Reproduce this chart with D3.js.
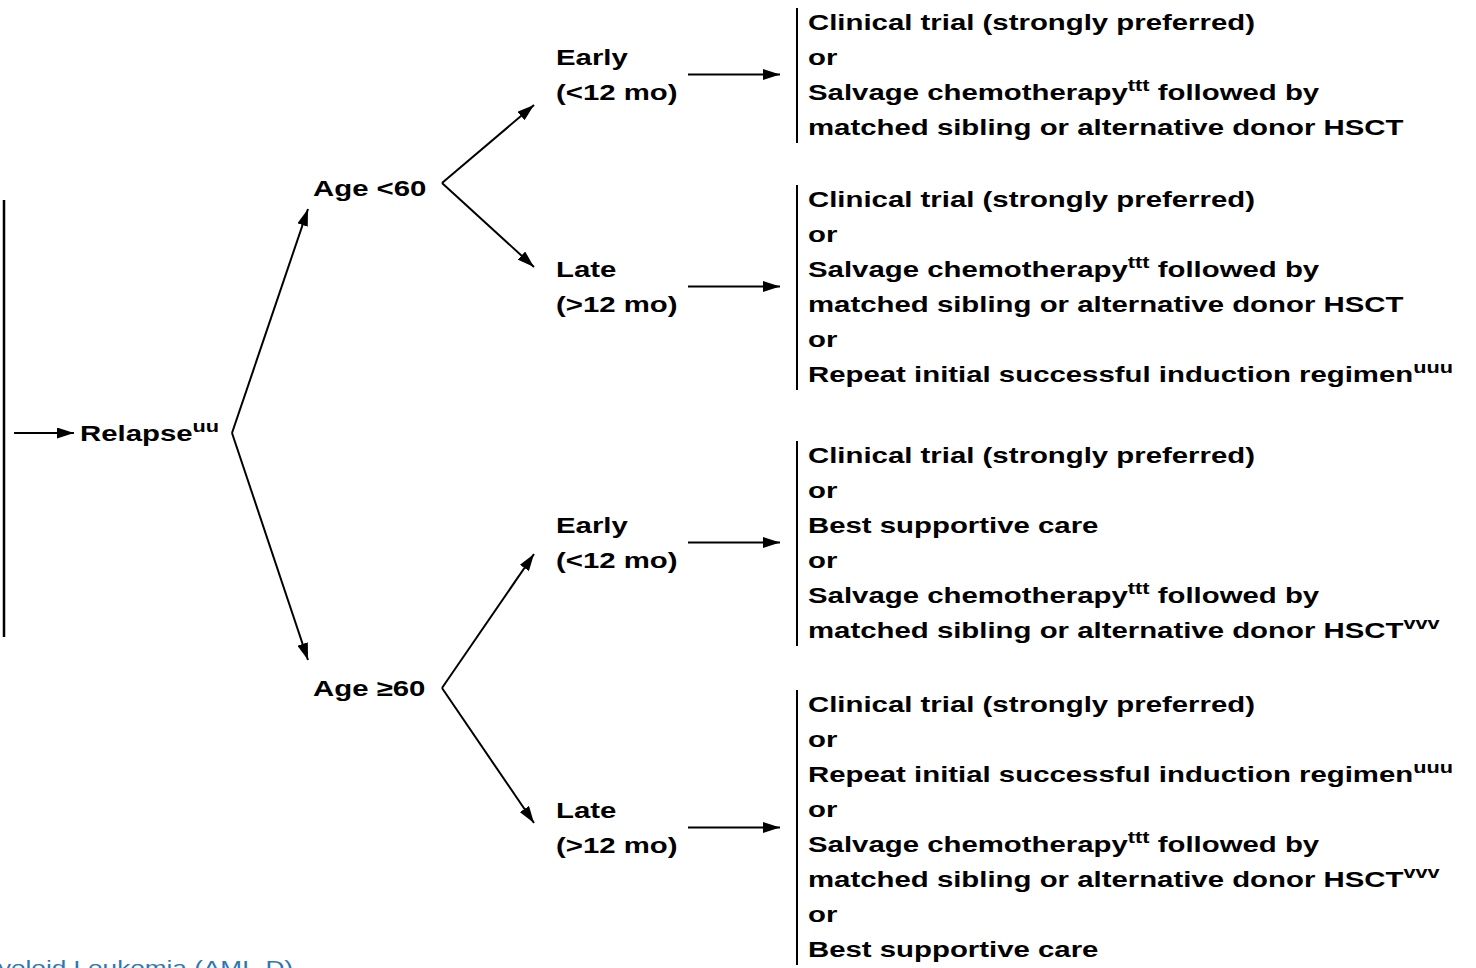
<!DOCTYPE html>
<html>
<head>
<meta charset="utf-8">
<script src="https://cdn.jsdelivr.net/npm/d3@7"></script>
<style>
  html, body { margin: 0; padding: 0; background: #fff; overflow: hidden; }
  svg { display: block; }
  text { font-family: "Liberation Sans", Arial, sans-serif; }
</style>
</head>
<body>
<svg id="chart" width="1476" height="968"></svg>
<script>
// ---- Data ----
const rootLabel = "Relapse^uu";
const ageLabels = ["Age <60", "Age \u226560"];
const timingLabels = [["Early", "(<12 mo)"], ["Late", "(>12 mo)"], ["Early", "(<12 mo)"], ["Late", "(>12 mo)"]];
const treatmentOptions = [
  ["Clinical trial (strongly preferred)", "or", "Salvage chemotherapy^ttt followed by", "matched sibling or alternative donor HSCT"],
  ["Clinical trial (strongly preferred)", "or", "Salvage chemotherapy^ttt followed by", "matched sibling or alternative donor HSCT", "or", "Repeat initial successful induction regimen^uuu"],
  ["Clinical trial (strongly preferred)", "or", "Best supportive care", "or", "Salvage chemotherapy^ttt followed by", "matched sibling or alternative donor HSCT^vvv"],
  ["Clinical trial (strongly preferred)", "or", "Repeat initial successful induction regimen^uuu", "or", "Salvage chemotherapy^ttt followed by", "matched sibling or alternative donor HSCT^vvv", "or", "Best supportive care"]
];
const footerLabel = "Acute Myeloid Leukemia (AML-D)";

// ---- Layout ----
const svg = d3.select("#chart");
const lineH = 35;
const SX = 1.335;                                // horizontal stretch of the reference lettering
const FS = 22;
const groupTop = [22, 199, 455, 704];            // center of first text line in each group
const timingY = [57, 269, 525, 810];             // center of first timing line
const ageY = [188, 688];
const rootY = 433;
const col = d3.scaleOrdinal()
  .domain(["bar", "root", "age", "timing", "bracket"])
  .range([4, 80, 313, 556, 797]);

svg.append("defs").append("marker")
  .attr("id", "ah").attr("viewBox", "0 0 17 11")
  .attr("refX", 17).attr("refY", 5.5)
  .attr("markerWidth", 17).attr("markerHeight", 11)
  .attr("markerUnits", "userSpaceOnUse")
  .attr("orient", "auto")
  .append("path").attr("d", "M0,0 L17,5.5 L0,11 Z").attr("fill", "#000");

const g = svg.append("g");

function addText(str, x, y, size) {
  const t = g.append("text")
    .attr("transform", `translate(${x},${y}) scale(${SX},1)`)
    .attr("font-size", size).attr("font-weight", "bold").attr("fill", "#000");
  const parts = str.split(/\^(\w+)/);
  const rise = size * 0.42;
  parts.forEach((p, k) => {
    if (!p) return;
    if (k % 2 === 1) {
      t.append("tspan").attr("font-size", size * 0.74).attr("dy", -rise).text(p);
    } else {
      const ts = t.append("tspan").text(p);
      if (k > 0) ts.attr("dy", rise);
    }
  });
  return t;
}

const arrow = (x1, y1, x2, y2) => g.append("line")
  .attr("x1", x1).attr("y1", y1).attr("x2", x2).attr("y2", y2)
  .attr("stroke", "#000").attr("stroke-width", 2).attr("marker-end", "url(#ah)");

// Left bar and relapse arrow
g.append("line").attr("x1", col("bar")).attr("x2", col("bar")).attr("y1", 200).attr("y2", 637)
  .attr("stroke", "#000").attr("stroke-width", 2.5);
arrow(14, rootY, 74, rootY);
addText(rootLabel, col("root"), rootY + 8, FS);

// Age nodes and branches from relapse
ageLabels.forEach((lab, i) => addText(lab, col("age"), ageY[i] + 8, FS));
const relapseVertex = [232, rootY];
const ageTips = [[308, 209], [308, 660]];
ageTips.forEach(t => arrow(relapseVertex[0], relapseVertex[1], t[0], t[1]));

// Timing nodes
const ageVertex = [[442, 183], [442, 688]];
const timingTips = [[534, 105], [534, 267], [534, 554], [534, 823]];
timingLabels.forEach((lines, i) => {
  lines.forEach((l, j) => addText(l, col("timing"), timingY[i] + j * lineH + 8, FS));
  const ay = timingY[i] + lineH / 2;
  arrow(688, ay, 780, ay);
  const v = ageVertex[Math.floor(i / 2)];
  arrow(v[0], v[1], timingTips[i][0], timingTips[i][1]);
});

// Treatment groups
treatmentOptions.forEach((lines, i) => {
  const top = groupTop[i];
  const n = lines.length;
  g.append("line").attr("x1", col("bracket")).attr("x2", col("bracket"))
    .attr("y1", top - 14).attr("y2", top + (n - 1) * lineH + 16)
    .attr("stroke", "#000").attr("stroke-width", 2);
  lines.forEach((l, j) => addText(l, col("bracket") + 11, top + j * lineH + 8, FS));
});

// Footer (cut off at the page edge, as in the reference)
svg.append("text")
  .attr("transform", `translate(293,975) scale(${SX},1)`)
  .attr("text-anchor", "end")
  .attr("font-size", 19.6).attr("fill", "#2b78b8").text(footerLabel);
</script>
</body>
</html>
